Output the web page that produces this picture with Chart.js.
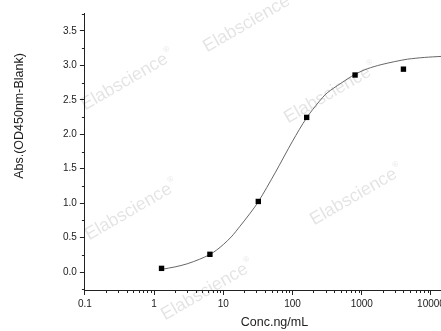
<!DOCTYPE html>
<html>
<head>
<meta charset="utf-8">
<script src="https://cdn.jsdelivr.net/npm/chart.js@4.4.1/dist/chart.umd.min.js"></script>
<style>
  html, body { margin: 0; padding: 0; background: #fff; }
  .plot-figure { width: 441px; height: 331px; overflow: hidden; }
</style>
</head>
<body>
<div class="plot-figure">
  <canvas id="myChart" width="480" height="331"></canvas>
</div>
<script>
// standard points (ng/mL vs OD)
const concentrations = [1.28, 6.4, 32, 160, 800, 4000];
const absorbance = [0.054, 0.258, 1.025, 2.245, 2.86, 2.945];

// fitted curve
const curveConc = [1.28, 2, 3, 4.5, 6.4, 8, 10, 13, 17.4, 24, 32, 56, 100, 160, 240, 316, 500, 800, 1200, 1900, 3000, 4600, 8000, 14000];
const curveAbs = [0.04, 0.075, 0.12, 0.185, 0.255, 0.32, 0.40, 0.51, 0.665, 0.845, 1.02, 1.44, 1.9, 2.24, 2.47, 2.6, 2.74, 2.87, 2.95, 3.01, 3.055, 3.09, 3.115, 3.13];

const xTicks = [0.1, 1, 10, 100, 1000, 10000];
const yTicks = [0, 0.5, 1, 1.5, 2, 2.5, 3, 3.5];
const yMinorTicks = [-0.25, 0.25, 0.75, 1.25, 1.75, 2.25, 2.75, 3.25, 3.75];

const xMinorTicks = [];
[0.1, 1, 10, 100, 1000, 10000].forEach((d) => {
    for (let m = 2; m <= 9; m++) xMinorTicks.push(d * m);
});

const FONT = "'Liberation Sans', Arial, sans-serif";
Chart.defaults.font.family = FONT;
Chart.defaults.color = "#222";

// faint "Elabscience" marks behind the data
const watermarks = [[128, 80], [250, 22], [331, 93], [132, 210], [208, 290], [357, 195]];
const watermarkPlugin = {
    id: "watermark",
    beforeDatasetsDraw(chart) {
        const ctx = chart.ctx;
        ctx.save();
        ctx.fillStyle = "rgba(0,0,0,0.11)";
        ctx.textBaseline = "middle";
        watermarks.forEach(([cx, cy]) => {
            ctx.save();
            ctx.translate(cx, cy);
            ctx.rotate(-30 * Math.PI / 180);
            ctx.font = "18px " + FONT;
            const w = ctx.measureText("Elabscience").width;
            const x0 = -(w + 8) / 2;
            ctx.fillText("Elabscience", x0, 0);
            ctx.font = "8px " + FONT;
            ctx.fillText("®", x0 + w + 1, -7);
            ctx.restore();
        });
        ctx.restore();
    }
};

// short minor ticks and the offset y title
const extrasPlugin = {
    id: "extras",
    afterDraw(chart) {
        const ctx = chart.ctx;
        const area = chart.chartArea;
        const xs = chart.scales.x;
        const ys = chart.scales.y;
        ctx.save();
        ctx.strokeStyle = "#222";
        ctx.lineWidth = 1;
        ctx.beginPath();
        xMinorTicks.forEach((v) => {
            const px = Math.round(xs.getPixelForValue(v)) + 0.5;
            ctx.moveTo(px, area.bottom);
            ctx.lineTo(px, area.bottom + 3);
        });
        yMinorTicks.forEach((v) => {
            const py = Math.round(ys.getPixelForValue(v)) + 0.5;
            ctx.moveTo(area.left - 3, py);
            ctx.lineTo(area.left, py);
        });
        ctx.stroke();

        ctx.translate(20, 116);
        ctx.rotate(-Math.PI / 2);
        ctx.fillStyle = "#222";
        ctx.font = "12.5px " + FONT;
        ctx.textAlign = "center";
        ctx.textBaseline = "middle";
        ctx.fillText("Abs.(OD450nm-Blank)", 0, 0);
        ctx.restore();
    }
};

const ctx = document.getElementById("myChart").getContext("2d");
new Chart(ctx, {
    type: "scatter",
    data: {
        datasets: [
            {
                label: "Standard",
                data: concentrations.map((c, i) => ({x: c, y: absorbance[i]})),
                pointStyle: "rect",
                pointRadius: 3.8,
                backgroundColor: "#000",
                borderWidth: 0,
                showLine: false
            },
            {
                label: "Fit",
                data: curveConc.map((c, i) => ({x: c, y: curveAbs[i]})),
                showLine: true,
                borderColor: "#666",
                borderWidth: 1,
                pointRadius: 0,
                tension: 0.3,
                fill: false
            }
        ]
    },
    options: {
        responsive: false,
        devicePixelRatio: 1,
        animation: false,
        layout: {padding: {left: 60, top: 13, right: 16, bottom: 0}},
        plugins: {legend: {display: false}, tooltip: {enabled: false}},
        scales: {
            x: {
                type: "logarithmic",
                min: 0.1,
                max: 30000,
                afterBuildTicks: (axis) => {
                    axis.ticks = xTicks.map((v) => ({value: v}));
                },
                ticks: {
                    callback: (value) => String(value),
                    font: {size: 10},
                    padding: 3,
                    maxRotation: 0,
                    autoSkip: false
                },
                grid: {drawOnChartArea: false, tickLength: 5, tickColor: "#222"},
                border: {color: "#222", width: 1},
                title: {
                    display: true,
                    text: "Conc.ng/mL",
                    font: {size: 12.5},
                    padding: {top: 2.5, bottom: 0.5}
                }
            },
            y: {
                min: -0.26,
                max: 3.76,
                afterBuildTicks: (axis) => {
                    axis.ticks = yTicks.map((v) => ({value: v}));
                },
                ticks: {
                    callback: (value) => value.toFixed(1),
                    font: {size: 10},
                    padding: 3,
                    autoSkip: false
                },
                grid: {drawOnChartArea: false, tickLength: 5, tickColor: "#222"},
                border: {color: "#222", width: 1}
            }
        }
    },
    plugins: [watermarkPlugin, extrasPlugin]
});
</script>
</body>
</html>
